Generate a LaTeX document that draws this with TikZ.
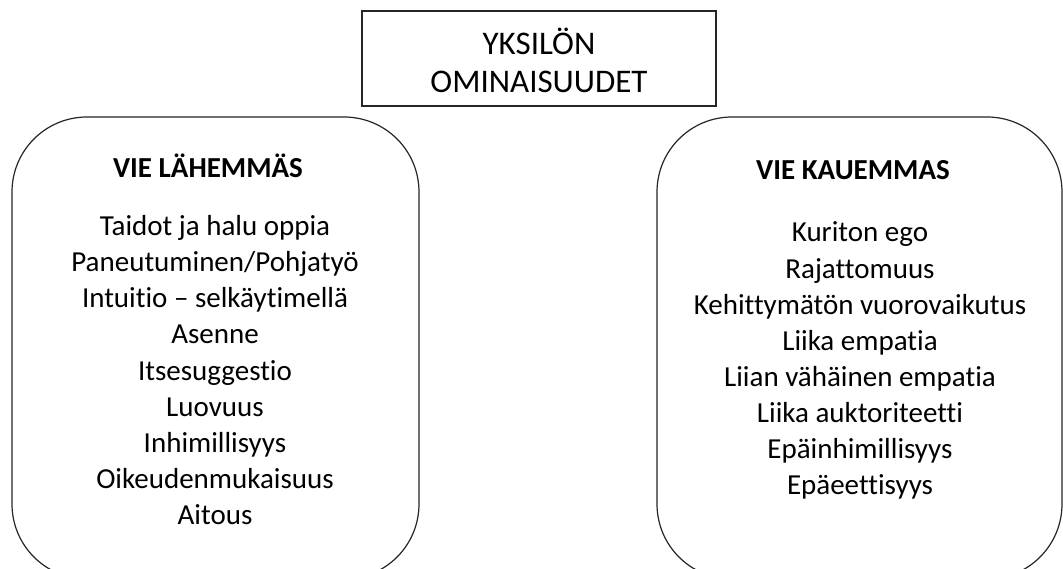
\documentclass[tikz,border=0pt]{standalone}
\usepackage{fontspec}
\setmainfont{Carlito}[Ligatures=NoCommon]
\begin{document}
\begin{tikzpicture}[x=1pt,y=-1pt,
  frame/.style={draw=black!85,line width=1.2pt},
  item/.style={anchor=base,inner sep=0pt,font=\fontsize{29}{35}\selectfont},
  head/.style={anchor=base,inner sep=0pt,font=\fontsize{29}{35}\selectfont\bfseries},
  toptxt/.style={anchor=base,inner sep=0pt,font=\fontsize{33}{38}\selectfont}]
\clip (0,0) rectangle (1063,569);
\fill[white] (0,0) rectangle (1063,569);
% top box
\draw[frame] (362,11) rectangle (716,106);
\node[toptxt] (t1) at (539,55) {YKSILÖN};
\node[toptxt] (t2) at (539,93) {OMINAISUUDET};
% rounded boxes
\draw[frame,rounded corners=75pt] (12,117) rectangle (419,579);
\draw[frame,rounded corners=75pt] (657,117) rectangle (1062,579);
\node[head] (lh) at (208,178) {VIE LÄHEMMÄS};
\node[head] (rh) at (853,180) {VIE KAUEMMAS};
\foreach \t [count=\i] in {Taidot ja halu oppia,Paneutuminen/Pohjatyö,Intuitio – selkäytimellä,Asenne,Itsesuggestio,Luovuus,Inhimillisyys,Oikeudenmukaisuus,Aitous}
  \node[item] (l\i) at (215,{236+36*(\i-1)}) {\t};
\foreach \t [count=\i] in {Kuriton ego,Rajattomuus,Kehittymätön vuorovaikutus,Liika empatia,Liian vähäinen empatia,Liika auktoriteetti,Epäinhimillisyys,Epäeettisyys}
  \node[item] (r\i) at (860,{242+36.1*(\i-1)}) {\t};
\end{tikzpicture}
\end{document}
